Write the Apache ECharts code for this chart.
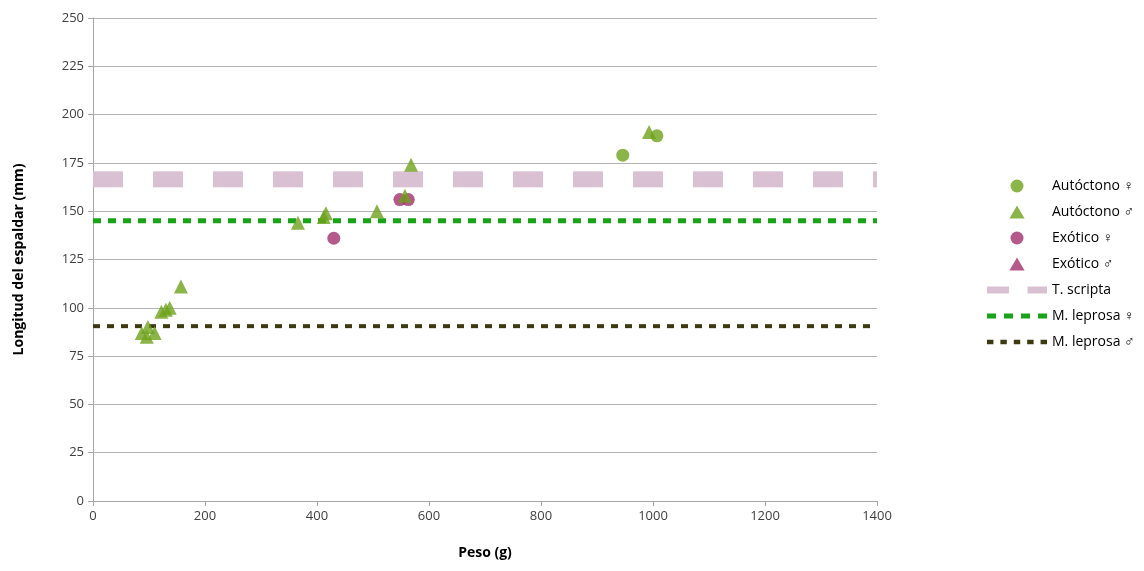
<!DOCTYPE html>
<html><head><meta charset="utf-8">
<script src="https://cdn.jsdelivr.net/npm/echarts@6/dist/echarts.min.js"></script>
<style>html,body{margin:0;padding:0;background:#fff}#c{width:1144px;height:571px}</style>
</head><body><div id="c"></div>
<script>
const autoctonoF = [[946,179],[1007,189]];
const autoctonoM = [[87,87],[96,85],[98,90],[110,87],[122,98],[130,99],[137,100],[157,111],[366,144],[412,147],[416,149],[507,150],[557,158],[568,174],[993,191]];
const exoticoF = [[430,136],[548,156],[563,156]];
const exoticoM = [];
const tScripta = 166.5;
const mLeprosaF = 145;
const mLeprosaM = 90.5;
const xRange = [0, 1400];
const legendNames = ['Autóctono ♀','Autóctono ♂','Exótico ♀','Exótico ♂','T. scripta','M. leprosa ♀','M. leprosa ♂'];

const FONT = '"Open Sans", "Noto Sans", sans-serif';
const TRI = 'path://M7,0L14,12L0,12Z';
const ICON_TS = 'path://M0,0h25v8h-25zM46,0h22v8h-22z';
const ICON_MF = 'path://M0,0h9v5h-9zM17,0h9v5h-9zM34,0h9v5h-9zM51,0h9v5h-9z';
const ICON_MM = 'path://M0,0h6v4h-6zM12.5,0h6v4h-6zM25,0h6v4h-6zM37.5,0h6v4h-6zM50,0h6v4h-6z';
const icons = ['circle', TRI, 'circle', TRI, ICON_TS, ICON_MF, ICON_MM];

const chart = echarts.init(document.getElementById('c'), null, {renderer:'canvas'});
function hline(v){ return [[xRange[0], v],[xRange[1], v]]; }
chart.setOption({
  animation:false,
  grid:{left:93, right:267, top:18, bottom:70, containLabel:false},
  xAxis:{type:'value', min:0, max:1400, interval:200,
    name:'Peso (g)', nameLocation:'middle', nameGap:45,
    nameTextStyle:{fontFamily:FONT, fontWeight:'bold', fontSize:14, color:'#000'},
    axisLine:{show:true, lineStyle:{color:'#a6a6a6'}},
    axisTick:{show:true, length:5, lineStyle:{color:'#a6a6a6'}},
    axisLabel:{fontFamily:FONT, fontSize:13, color:'#404040', margin:9, formatter:function(v){return String(v);}},
    splitLine:{show:false}},
  yAxis:{type:'value', min:0, max:250, interval:25,
    name:'Longitud del espaldar (mm)', nameLocation:'middle', nameGap:67, nameRotate:90,
    nameTextStyle:{fontFamily:FONT, fontWeight:'bold', fontSize:14, color:'#000'},
    axisLine:{show:true, lineStyle:{color:'#a6a6a6'}},
    axisTick:{show:true, length:5, lineStyle:{color:'#a6a6a6'}},
    axisLabel:{fontFamily:FONT, fontSize:13, color:'#404040', margin:9, formatter:function(v){return String(v);}},
    splitLine:{show:true, lineStyle:{color:'#b3b3b3', width:1}}},
  legend:{orient:'vertical', left:982, top:174, itemGap:12, itemWidth:60, itemHeight:13,
    symbolKeepAspect:true,
    textStyle:{fontFamily:FONT, fontSize:14, color:'#000'},
    data:legendNames.map(function(n,i){return {name:n, icon:icons[i]};})},
  series:[
    {name:'T. scripta', type:'line', data:hline(tScripta), symbol:'none', z:1,
      lineStyle:{color:'#d9c1d3', width:16, type:[30,30], cap:'butt'}, itemStyle:{color:'#d9c1d3'}},
    {name:'M. leprosa ♀', type:'line', data:hline(mLeprosaF), symbol:'none', z:2,
      lineStyle:{color:'#19a319', width:5, type:[8,7]}, itemStyle:{color:'#19a319'}},
    {name:'M. leprosa ♂', type:'line', data:hline(mLeprosaM), symbol:'none', z:2,
      lineStyle:{color:'#3d3a12', width:4, type:[7,7]}, itemStyle:{color:'#3d3a12'}},
    {name:'Exótico ♀', type:'scatter', data:exoticoF, symbol:'circle', symbolSize:13, z:3,
      itemStyle:{color:'#a1306b'}},
    {name:'Exótico ♂', type:'scatter', data:exoticoM, symbol:'triangle', symbolSize:14, z:3,
      itemStyle:{color:'#a1306b'}},
    {name:'Autóctono ♀', type:'scatter', data:autoctonoF, symbol:'circle', symbolSize:13, z:4,
      itemStyle:{color:'#6ea31c'}},
    {name:'Autóctono ♂', type:'scatter', data:autoctonoM, symbol:'triangle', symbolSize:14, z:4,
      itemStyle:{color:'#6ea31c'}}
  ]
});
</script></body></html>
